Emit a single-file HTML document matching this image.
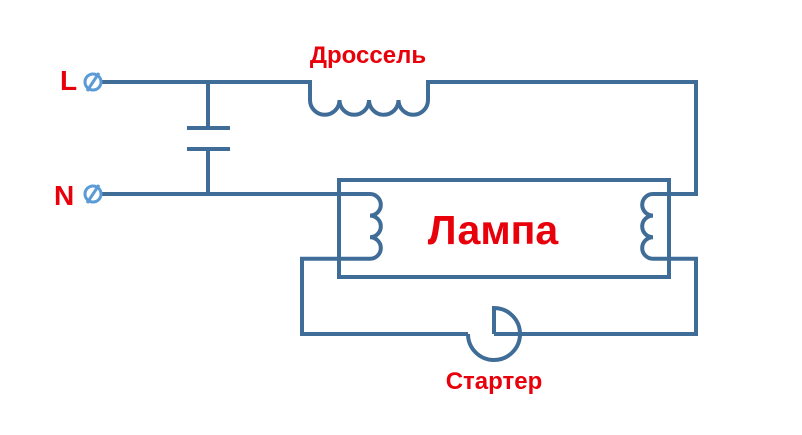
<!DOCTYPE html>
<html><head><meta charset="utf-8"><style>
body{margin:0;background:#fff}
svg{display:block}
text{font-family:"Liberation Sans","DejaVu Sans",sans-serif;font-weight:bold;fill:#e8000b}
</style></head><body>
<svg width="802" height="435" viewBox="0 0 802 435">
<g fill="none" stroke="#3f6d97" stroke-width="4" stroke-linejoin="miter">
<path d="M100,82 H310 V100 a14.75,14.75 0 0 0 29.5,0 a14.75,14.75 0 0 0 29.5,0 a14.75,14.75 0 0 0 29.5,0 a14.75,14.75 0 0 0 29.5,0 V82 H696 V194 H669"/>
<path d="M208,82 V128 M187,128 H230 M187,149 H230 M208,149 V194"/>
<path d="M100,194 H370 a10.8,10.8 0 0 1 0,21.6 a10.8,10.8 0 0 1 0,21.6 a10.8,10.8 0 0 1 0,21.6 H302 V334 H468"/>
<path d="M696,194 H653 a10.8,10.8 0 0 0 0,21.6 a10.8,10.8 0 0 0 0,21.6 a10.8,10.8 0 0 0 0,21.6 H696 V334 H494"/>
<rect x="339" y="180" width="330" height="97"/>
<path d="M468,334 A26,26 0 0 0 520,334 A26,26 0 0 0 494,308 V334"/>
</g>
<g fill="#fff" stroke="#5b9bd5" stroke-width="3">
<circle cx="93" cy="82" r="8"/>
<circle cx="93" cy="194" r="8"/>
</g>
<g stroke="#5b9bd5" stroke-width="3">
<line x1="87" y1="91" x2="99" y2="73"/>
<line x1="87" y1="203" x2="99" y2="185"/>
</g>
<text x="60" y="90" font-size="28">L</text>
<text x="54" y="205" font-size="28">N</text>
<text x="368" y="63" font-size="24" text-anchor="middle">Дроссель</text>
<text x="493" y="244" font-size="41" text-anchor="middle">Лампа</text>
<text x="494" y="389" font-size="24" text-anchor="middle">Стартер</text>
</svg>
</body></html>
